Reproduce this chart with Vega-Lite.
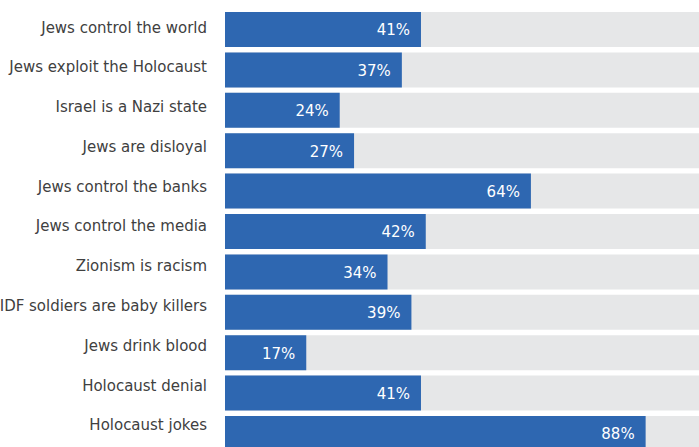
{
  "$schema": "https://vega.github.io/schema/vega-lite/v6.json",
  "autosize": {"type": "none"},
  "width": 478,
  "height": 444.4,
  "padding": {"left": 225, "top": 9.3, "right": 0, "bottom": 0},
  "background": "white",
  "config": {"view": {"stroke": null}},
  "data": {"values": [
    {"item": "Jews control the world", "share": 0.41},
    {"item": "Jews exploit the Holocaust", "share": 0.37},
    {"item": "Israel is a Nazi state", "share": 0.24},
    {"item": "Jews are disloyal", "share": 0.27},
    {"item": "Jews control the banks", "share": 0.64},
    {"item": "Jews control the media", "share": 0.42},
    {"item": "Zionism is racism", "share": 0.34},
    {"item": "IDF soldiers are baby killers", "share": 0.39},
    {"item": "Jews drink blood", "share": 0.17},
    {"item": "Holocaust denial", "share": 0.41},
    {"item": "Holocaust jokes", "share": 0.88}
  ]},
  "layer": [
    {
      "layer": [
        {
          "mark": {"type": "bar", "color": "#e6e7e8"},
          "encoding": {"x": {"datum": 1, "type": "quantitative", "scale": {"domain": [0, 1]}, "axis": null}}
        },
        {
          "mark": {"type": "bar", "color": "#2e67b1"},
          "encoding": {"x": {"field": "share", "type": "quantitative", "scale": {"domain": [0, 1]}, "axis": null}}
        },
        {
          "mark": {"type": "text", "align": "right", "baseline": "alphabetic", "dx": -11, "dy": 6, "color": "white", "font": "DejaVu Sans", "fontSize": 15},
          "encoding": {
            "x": {"field": "share", "type": "quantitative"},
            "text": {"field": "share", "type": "quantitative", "format": ".0%"}
          }
        }
      ],
      "encoding": {
        "y": {
          "field": "item", "type": "nominal", "sort": null, "title": null,
          "scale": {"paddingInner": 0.134, "paddingOuter": 0.067, "round": false},
          "axis": null
        }
      }
    },
    {
      "mark": {"type": "text", "align": "right", "baseline": "alphabetic", "dx": -18, "color": "#404040", "font": "DejaVu Sans", "fontSize": 15},
      "encoding": {
        "y": {
          "field": "item", "type": "nominal", "sort": null, "title": null,
          "scale": {"type": "point", "padding": 0.585, "round": false},
          "axis": null
        },
        "x": {"datum": 0, "type": "quantitative"},
        "text": {"field": "item", "type": "nominal"}
      }
    }
  ],
  "resolve": {"scale": {"y": "independent"}}
}
